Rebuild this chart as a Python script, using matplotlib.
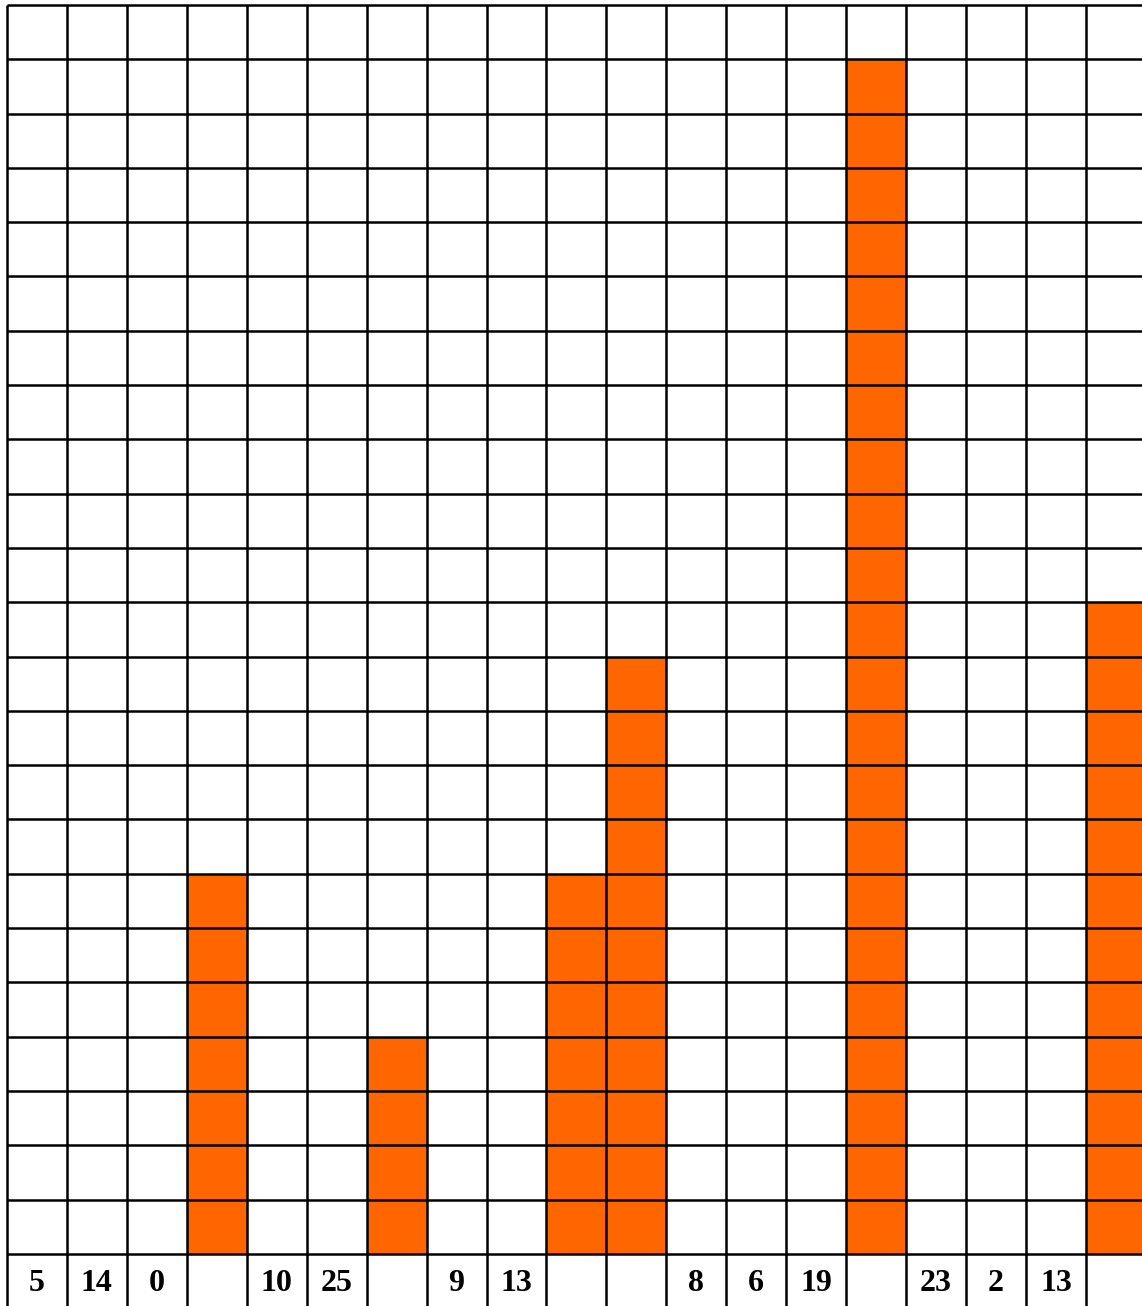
import matplotlib
matplotlib.use("Agg")
import matplotlib.pyplot as plt

# column values (height of orange bar in cells) and labels under each column
heights = [0, 0, 0, 7, 0, 0, 4, 0, 0, 7, 11, 0, 0, 0, 22, 0, 0, 0, 12]
labels = ["5", "14", "0", "", "10", "25", "", "9", "13", "", "", "8", "6", "19", "", "23", "2", "13", ""]
n_rows = 23

W, H = 1142, 1306
col_w = 59.94   # px per column
row_h = 54.3    # px per row
x0, y_top = 7, 5

fig = plt.figure(figsize=(W / 100, H / 100), dpi=100)
ax = fig.add_axes([0, 0, 1, 1])

# axis limits so that cells land on the same pixels as the reference
y_base = y_top + n_rows * row_h
ax.set_xlim(-x0 / col_w, (W - x0) / col_w)
ax.set_ylim(-(H - y_base) / row_h, n_rows + y_top / row_h)
ax.axis("off")

cols = list(range(len(heights)))
ax.bar(cols, heights, width=1, align="edge", color="#FF6600", zorder=1)

# grid lines
for y in range(0, n_rows + 1):
    ax.plot([0, len(cols) + 1], [y, y], color="black", lw=1.8, zorder=2,
            solid_capstyle="butt")
for x in range(0, len(cols) + 1):
    ax.plot([x, x], [-2, n_rows], color="black", lw=1.8, zorder=2,
            solid_capstyle="butt")

for i, lab in enumerate(labels):
    ax.text(i + 0.5, -0.55, lab, ha="center", va="center", fontsize=23,
            fontweight="bold", family="Liberation Serif")

fig.savefig("out.png", dpi=100)
